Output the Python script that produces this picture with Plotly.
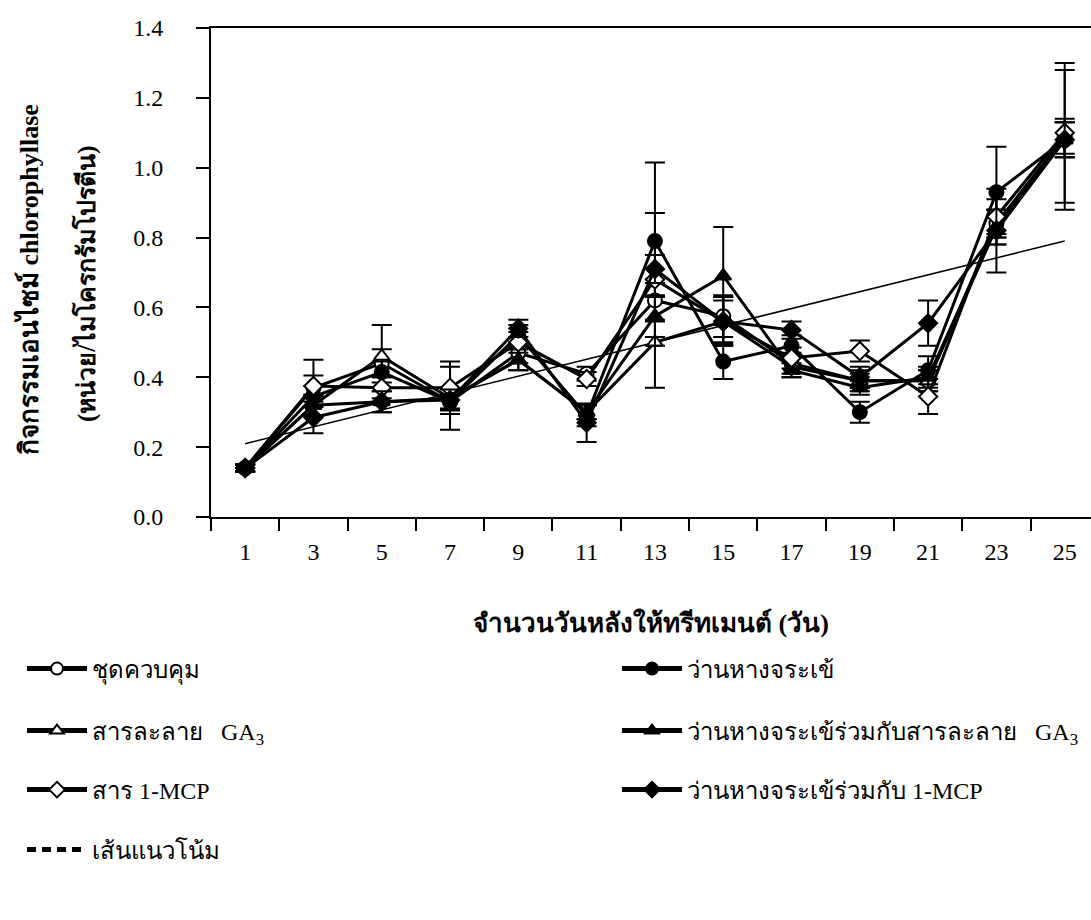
import plotly.graph_objects as go

# Days after treatment
days = [1, 3, 5, 7, 9, 11, 13, 15, 17, 19, 21, 23, 25]

# Chlorophyllase activity (unit / ug protein) per treatment
control = [0.14, 0.37, 0.44, 0.33, 0.47, 0.41, 0.62, 0.575, 0.44, 0.39, 0.39, 0.84, 1.09]
aloe = [0.14, 0.345, 0.415, 0.33, 0.52, 0.29, 0.79, 0.445, 0.49, 0.30, 0.42, 0.93, 1.08]
ga3 = [0.14, 0.32, 0.46, 0.34, 0.45, 0.30, 0.50, 0.56, 0.43, 0.39, 0.39, 0.83, 1.08]
aloe_ga3 = [0.14, 0.32, 0.33, 0.34, 0.45, 0.30, 0.575, 0.69, 0.42, 0.37, 0.40, 0.83, 1.08]
mcp = [0.14, 0.375, 0.37, 0.37, 0.50, 0.395, 0.68, 0.56, 0.455, 0.475, 0.345, 0.86, 1.10]
aloe_mcp = [0.14, 0.285, 0.33, 0.335, 0.54, 0.27, 0.71, 0.56, 0.535, 0.40, 0.555, 0.82, 1.08]

# Standard errors
control_err = [0.01, 0.08, 0.04, 0.02, 0.03, 0.02, 0.06, 0.06, 0.03, 0.02, 0.03, 0.04, 0.05]
aloe_err = [0.01, 0.03, 0.03, 0.02, 0.03, 0.03, 0.225, 0.05, 0.03, 0.03, 0.04, 0.13, 0.05]
ga3_err = [0.01, 0.03, 0.09, 0.03, 0.03, 0.02, 0.13, 0.07, 0.03, 0.03, 0.03, 0.05, 0.05]
aloe_ga3_err = [0.01, 0.03, 0.03, 0.09, 0.03, 0.02, 0.06, 0.14, 0.02, 0.02, 0.03, 0.05, 0.05]
mcp_err = [0.01, 0.03, 0.03, 0.075, 0.03, 0.02, 0.19, 0.07, 0.03, 0.03, 0.05, 0.05, 0.20]
aloe_mcp_err = [0.01, 0.045, 0.03, 0.03, 0.025, 0.055, 0.04, 0.06, 0.025, 0.03, 0.065, 0.12, 0.20]

# Linear trend line end points
trend_x = [1, 25]
trend_y = [0.21, 0.79]

names = [
    "ชุดควบคุม",
    "ว่านหางจระเข้",
    "สารละลาย   GA<sub>3</sub>",
    "ว่านหางจระเข้ร่วมกับสารละลาย   GA<sub>3</sub>",
    "สาร 1-MCP",
    "ว่านหางจระเข้ร่วมกับ 1-MCP",
]
series = [control, aloe, ga3, aloe_ga3, mcp, aloe_mcp]
errors = [control_err, aloe_err, ga3_err, aloe_ga3_err, mcp_err, aloe_mcp_err]
symbols = ["circle", "circle", "triangle-up", "triangle-up", "diamond", "diamond"]
fills = ["white", "black", "white", "black", "white", "black"]

FONT = "Liberation Serif, Times New Roman, serif"
W, H = 1091, 920

# legend slots: (left px, centre-y px) for each entry, two columns
slots = [(22, 669), (617, 669), (22, 731), (617, 731), (22, 790), (617, 790), (22, 850)]
legend_ids = ["legend"] + ["legend%d" % i for i in range(2, 8)]

fig = go.Figure()

fig.add_trace(go.Scatter(
    x=trend_x, y=trend_y, mode="lines",
    line=dict(color="black", width=1.5),
    showlegend=False, hoverinfo="skip",
))

for name, ys, err, sym, fill, lg in zip(names, series, errors, symbols, fills, legend_ids):
    fig.add_trace(go.Scatter(
        x=days, y=ys, name=name, mode="lines+markers",
        line=dict(color="black", width=3),
        marker=dict(symbol=sym, size=14, color=fill, line=dict(color="black", width=2)),
        error_y=dict(type="data", array=err, visible=True, color="black", thickness=2, width=10),
        legend=lg,
    ))

# legend entry for the trend line
fig.add_trace(go.Scatter(
    x=[None], y=[None], name="เส้นแนวโน้ม", mode="lines",
    line=dict(color="black", width=1.5, dash="9px,6px"),
    legend=legend_ids[6],
))


def legend_box(px, py):
    return dict(
        xref="container", yref="container",
        x=px / W, y=1 - py / H, xanchor="left", yanchor="middle",
        itemwidth=60, itemsizing="constant", bgcolor="rgba(0,0,0,0)",
        font=dict(family=FONT, size=24, color="black"),
    )


legends = {lid: legend_box(px, py) for lid, (px, py) in zip(legend_ids, slots)}

fig.update_layout(
    width=W, height=H,
    margin=dict(l=211, r=0, t=28, b=403, autoexpand=False),
    paper_bgcolor="white", plot_bgcolor="white",
    font=dict(family=FONT, size=24, color="black"),
    xaxis=dict(
        range=[0, 25.77], showgrid=False, zeroline=False,
        showline=True, linecolor="black", linewidth=2, mirror=True,
        tickmode="array", tickvals=days, ticktext=[str(d) for d in days],
        tickangle=0,
        ticks="outside", ticklen=12, tickcolor="rgba(0,0,0,0)",
        minor=dict(tickmode="array", tickvals=list(range(0, 25, 2)),
                   ticks="outside", ticklen=12, tickwidth=2, tickcolor="black"),
        tickfont=dict(family=FONT, size=24),
        title=dict(text="<b>จำนวนวันหลังให้ทรีทเมนต์ (วัน)</b>",
                   font=dict(family=FONT, size=26), standoff=50),
    ),
    yaxis=dict(
        range=[0, 1.4], showgrid=False, zeroline=False,
        showline=True, linecolor="black", linewidth=2,
        tickmode="array", tickvals=[0, 0.2, 0.4, 0.6, 0.8, 1.0, 1.2, 1.4], tickformat=".1f",
        ticks="outside", ticklen=13, tickwidth=2, tickcolor="black",
        ticklabelstandoff=28,
        tickfont=dict(family=FONT, size=24),
    ),
    annotations=[
        dict(text="<b>กิจกรรมเอนไซม์ chlorophyllase</b>", textangle=-90,
             xref="paper", yref="paper", x=(28 - 211) / 880, y=(517 - 280) / 489,
             xanchor="center", yanchor="middle", showarrow=False,
             font=dict(family=FONT, size=26, color="black")),
        dict(text="<b>(หน่วย/ไมโครกรัมโปรตีน)</b>", textangle=-90,
             xref="paper", yref="paper", x=(86 - 211) / 880, y=(517 - 283) / 489,
             xanchor="center", yanchor="middle", showarrow=False,
             font=dict(family=FONT, size=25, color="black")),
    ],
    **legends,
)

fig.write_html("out.html")
